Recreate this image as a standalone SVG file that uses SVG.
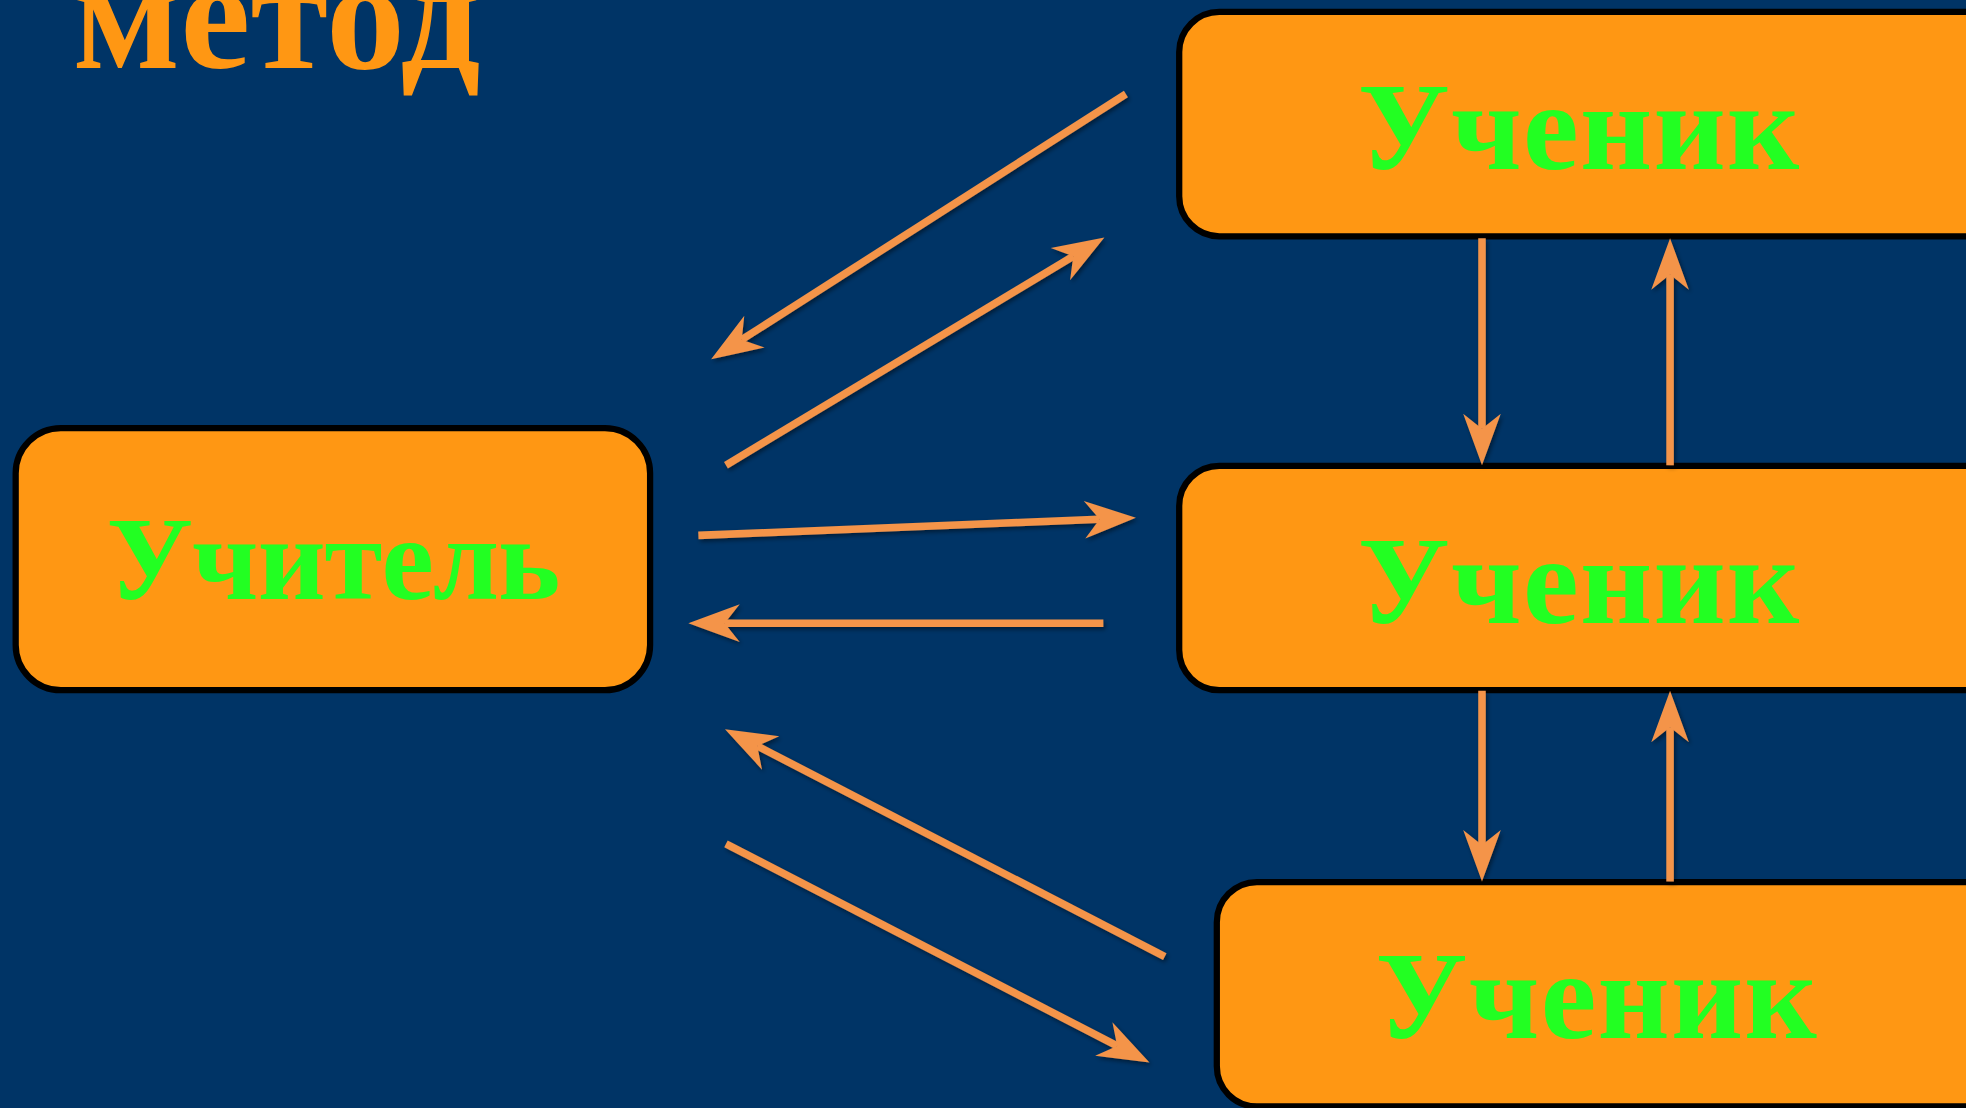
<svg xmlns="http://www.w3.org/2000/svg" width="1966" height="1108" viewBox="0 0 1966 1108">
  <defs>
    <style>
      .box { fill: #FF9713; stroke: #000; stroke-width: 5; }
      .lbl { fill: #22FF22; }
      .title { fill: #FF9713; }
      .conn line { stroke: #F4944A; stroke-width: 6; fill: none; marker-end: url(#ah); }
    </style>
    <marker id="ah" markerUnits="userSpaceOnUse" orient="auto" refX="0" refY="0" markerWidth="60" markerHeight="40" overflow="visible">
      <path d="M29,0 L-12,-15 L0,0 L-12,15 Z" fill="#F4944A"/>
    </marker>
    <filter id="sh" filterUnits="userSpaceOnUse" x="0" y="0" width="1600" height="900">
      <feDropShadow dx="1.5" dy="2" stdDeviation="1.5" flood-color="#000" flood-opacity="0.45"/>
    </filter>
  </defs>
  <rect x="0" y="0" width="1966" height="1108" fill="#003466"/>
  <g transform="scale(1.2538)" font-family="Liberation Serif, serif" font-weight="700">
    <g id="title">
      <text class="title" x="58" y="54" font-size="126">метод</text>
    </g>
    <g id="teacher">
      <rect class="box" x="12.5" y="341.5" width="506" height="209" rx="36" ry="36"/>
      <text class="lbl" x="85" y="478" font-size="94" textLength="362" lengthAdjust="spacing">Учитель</text>
    </g>
    <g id="student1">
      <rect class="box" x="940.5" y="9.5" width="680" height="179" rx="32" ry="32"/>
      <text class="lbl" x="1083" y="135" font-size="100" textLength="352" lengthAdjust="spacing">Ученик</text>
    </g>
    <g id="student2">
      <rect class="box" x="940.5" y="371.5" width="680" height="179" rx="32" ry="32"/>
      <text class="lbl" x="1083" y="497" font-size="100" textLength="352" lengthAdjust="spacing">Ученик</text>
    </g>
    <g id="student3">
      <rect class="box" x="970.5" y="703.5" width="680" height="179" rx="32" ry="32"/>
      <text class="lbl" x="1097" y="828" font-size="100" textLength="352" lengthAdjust="spacing">Ученик</text>
    </g>
    <g id="connectors" class="conn" filter="url(#sh)">
      <line x1="898" y1="75" x2="591.6" y2="270.9"/>
      <line x1="579" y1="371" x2="856" y2="204.4"/>
      <line x1="557" y1="427" x2="877" y2="414.1"/>
      <line x1="880" y1="497" x2="578" y2="497"/>
      <line x1="929" y1="763" x2="604" y2="595"/>
      <line x1="579" y1="673" x2="891" y2="834.2"/>
      <line x1="1182" y1="190" x2="1182" y2="342"/>
      <line x1="1332" y1="371" x2="1332" y2="219"/>
      <line x1="1182" y1="551" x2="1182" y2="674"/>
      <line x1="1332" y1="703" x2="1332" y2="580"/>
    </g>
  </g>
</svg>
